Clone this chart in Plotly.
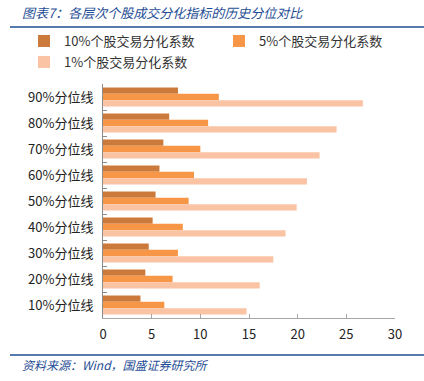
import plotly.graph_objects as go

categories = ['90%分位线', '80%分位线', '70%分位线', '60%分位线', '50%分位线',
              '40%分位线', '30%分位线', '20%分位线', '10%分位线']
s10 = [7.7, 6.8, 6.2, 5.8, 5.4, 5.1, 4.7, 4.35, 3.85]
s5 = [11.9, 10.8, 10.0, 9.35, 8.8, 8.2, 7.7, 7.15, 6.3]
s1 = [26.7, 24.0, 22.25, 20.95, 19.9, 18.75, 17.5, 16.1, 14.75]
names = ['10%个股交易分化系数', '5%个股交易分化系数', '1%个股交易分化系数']
colors = ['#CB7A3B', '#F79646', '#FAC3A4']
legend_ids = ['legend', 'legend2', 'legend3']
x_ticks = [0, 5, 10, 15, 20, 25, 30]

FONT = 'Noto Sans CJK SC, Liberation Sans, sans-serif'
L, R, T, B = 103, 29, 84, 63
W, H = 424, 381
PW, PH = W - L - R, H - T - B


def px(x):
    return (x - L) / PW


def py(y):
    return (H - B - y) / PH


fig = go.Figure()
for name, vals, c, lg in zip(names, [s10, s5, s1], colors, legend_ids):
    fig.add_trace(go.Bar(y=categories, x=vals, name=name, orientation='h',
                         legend=lg, marker=dict(color=c, line=dict(width=0))))

legend_common = dict(orientation='h', xanchor='left', yanchor='top',
                     font=dict(size=13, color='#333333'),
                     itemwidth=30, bgcolor='rgba(0,0,0,0)')

fig.update_layout(
    width=W, height=H,
    margin=dict(l=L, r=R, t=T, b=B, autoexpand=False),
    paper_bgcolor='white', plot_bgcolor='white',
    barmode='group', bargap=0.26, bargroupgap=0,
    font=dict(family=FONT, size=13, color='#222222'),
    showlegend=True,
    legend=dict(x=px(24), y=py(26), **legend_common),
    legend2=dict(x=px(219), y=py(26), **legend_common),
    legend3=dict(x=px(24), y=py(47), **legend_common),
    xaxis=dict(range=[0, 30], tickvals=x_ticks, showgrid=False, zeroline=False,
               showline=True, linecolor='#A6A6A6', linewidth=1, automargin=False,
               ticks='inside', ticklen=4, tickcolor='#A6A6A6', ticklabelstandoff=4,
               tickfont=dict(size=13, color='#222222')),
    yaxis=dict(autorange='reversed', showgrid=False, showline=True, automargin=False,
               linecolor='#8C8C8C', linewidth=1, ticks='inside', ticklen=4,
               tickcolor='#8C8C8C', tickson='boundaries', ticklabelstandoff=6,
               tickfont=dict(size=13, color='#222222')),
)

fig.add_annotation(text='<i>图表7：各层次个股成交分化指标的历史分位对比</i>', xref='paper', yref='paper',
                   x=px(20), y=py(13), xanchor='left', yanchor='middle',
                   showarrow=False, font=dict(size=13, color='#1F4E96', family=FONT))
fig.add_annotation(text='<i>资料来源：Wind，国盛证券研究所</i>', xref='paper', yref='paper',
                   x=px(20), y=py(364), xanchor='left', yanchor='middle',
                   showarrow=False, font=dict(size=12, color='#1F4E96', family=FONT))
for yy in (27, 355):
    fig.add_shape(type='line', xref='paper', yref='paper',
                  x0=px(10), x1=px(424), y0=py(yy), y1=py(yy),
                  line=dict(color='#1F4E96', width=1.5))

fig.write_html('out.html', config={'displayModeBar': False},
               post_script="document.body.style.margin='0';")
